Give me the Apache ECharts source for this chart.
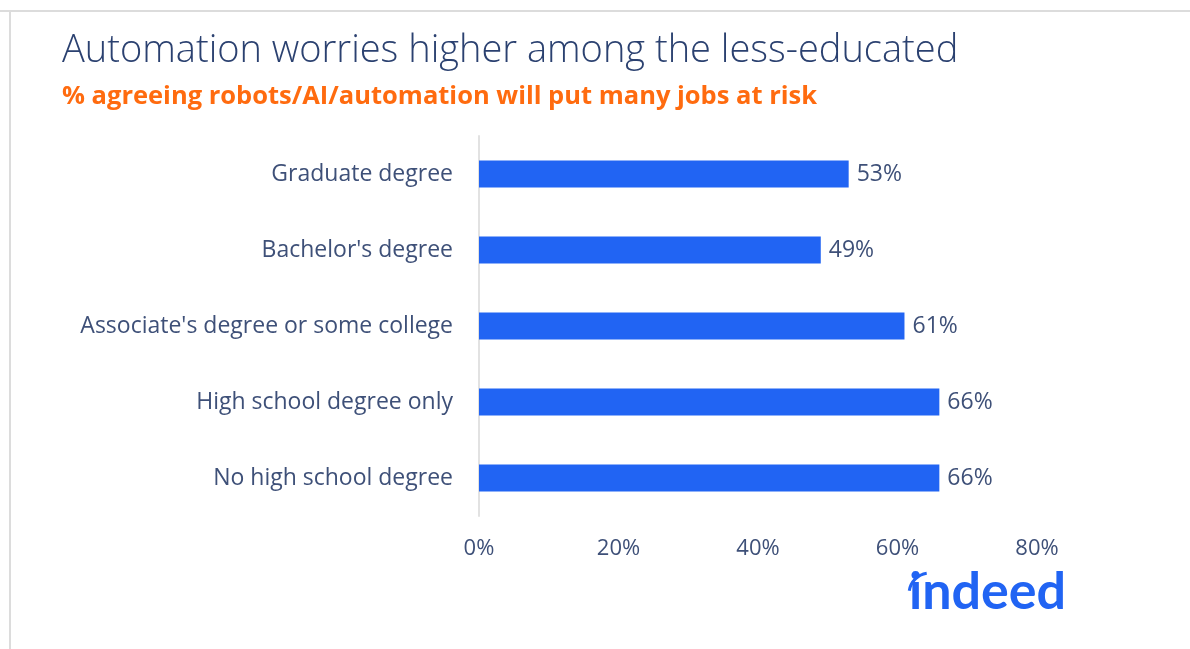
<!DOCTYPE html>
<html><head><meta charset="utf-8">
<script src="https://cdn.jsdelivr.net/npm/echarts@6/dist/echarts.min.js"></script>
<style>html,body{margin:0;padding:0;background:#fff}#c{width:1190px;height:649px}</style>
</head><body><div id="c"></div>
<script>
const categories = ["No high school degree","High school degree only","Associate's degree or some college","Bachelor's degree","Graduate degree"];
const values = [66, 66, 61, 49, 53];
const tickLabels = ["0%","20%","40%","60%","80%"];
const titleText = "Automation worries higher among the less-educated";
const subtitleText = "% agreeing robots/AI/automation will put many jobs at risk";

const FONT = '"Open Sans"';
const chart = echarts.init(document.getElementById('c'));
chart.setOption({
  backgroundColor:'#fff',
  animation:false,
  title:{
    text:titleText, subtext:subtitleText,
    left:57, top:27, itemGap:14,
    textStyle:{fontFamily:FONT, fontWeight:300, fontSize:38, color:'#2b4170'},
    subtextStyle:{fontFamily:FONT, fontWeight:'bold', fontSize:25.5, color:'#ff6b0f'}
  },
  grid:{left:479, right:153, top:136, bottom:133, containLabel:false},
  xAxis:{
    type:'value', min:0, max:80, interval:20,
    axisLine:{show:false}, axisTick:{show:false}, splitLine:{show:false},
    axisLabel:{formatter:v=>tickLabels[v/20], fontFamily:FONT, fontSize:22, color:'#3e5078', margin:22}
  },
  yAxis:{
    type:'category', data:categories,
    axisLine:{show:true, lineStyle:{color:'#e2e2e2', width:2}},
    axisTick:{show:false},
    axisLabel:{fontFamily:FONT, fontSize:23, color:'#3e5078', margin:26}
  },
  series:[{
    type:'bar', data:values, barWidth:27,
    itemStyle:{color:'#2164f3'},
    label:{show:true, position:'right', distance:8, formatter:p=>p.value+'%', fontFamily:FONT, fontSize:23, color:'#3e5078'}
  }],
  graphic:[
    {type:'line', shape:{x1:0,y1:11,x2:1190,y2:11}, style:{stroke:'#dcdcdc', lineWidth:2}},
    {type:'line', shape:{x1:10,y1:11,x2:10,y2:649}, style:{stroke:'#dcdcdc', lineWidth:2}},
    {type:'text', left:909, top:566, style:{text:'indeed', fontFamily:'Lato', fontWeight:'bold', fontSize:52, fill:'#2164f3'}},
    {type:'arc', shape:{cx:930, cy:594, r:21, startAngle:Math.PI*1.05, endAngle:Math.PI*1.45}, style:{stroke:'#2164f3', lineWidth:3, fill:null}}
  ]
});
</script></body></html>
